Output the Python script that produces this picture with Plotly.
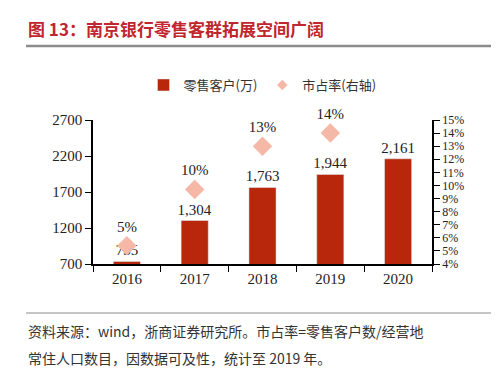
import plotly.graph_objects as go

years = ["2016", "2017", "2018", "2019", "2020"]
customers = [735, 1304, 1763, 1944, 2161]
share_years = ["2016", "2017", "2018", "2019"]
share = [0.054, 0.097, 0.13, 0.14]

title_text = "图 13：南京银行零售客群拓展空间广阔"
note1 = "资料来源：wind，浙商证券研究所。市占率=零售客户数/经营地"
note2 = "常住人口数目，因数据可及性，统计至 2019 年。"

serif = "Liberation Serif, Times New Roman, serif"
cjk = "Noto Sans CJK SC"

L, R, T, B = 85, 75, 112, 120
W, H = 499, 376
pw = W - L - R
ph = H - T - B

def px(x):
    return (x - L) / pw

def py(y):
    return (H - B - y) / ph

bar_color = "#B8260B"
dot_color = "#F5B7A6"

fig = go.Figure()
fig.add_trace(go.Bar(
    x=years, y=customers, name="零售客户(万)",
    marker=dict(color=bar_color), width=0.4,
    text=[f"{v:,}" for v in customers], textposition="outside",
    constraintext="none",
    textfont=dict(family=serif, size=15, color="#222"),
    cliponaxis=False, showlegend=True,
))
fig.add_trace(go.Scatter(
    x=share_years, y=share, name="市占率(右轴)", yaxis="y2",
    mode="markers+text",
    marker=dict(symbol="diamond", size=15, color=dot_color),
    text=[f"{round(v*100)}%" for v in share], textposition="top center",
    textfont=dict(family=serif, size=15, color="#222"),
    cliponaxis=False, showlegend=False,
))
# legend-only entry with a small diamond
fig.add_trace(go.Scatter(
    x=[None], y=[None], name="市占率(右轴)", yaxis="y2", mode="markers",
    marker=dict(symbol="diamond", size=8, color=dot_color), showlegend=True,
))

fig.update_layout(
    width=W, height=H,
    margin=dict(l=L, r=R, t=T, b=B),
    paper_bgcolor="white", plot_bgcolor="white",
    legend=dict(orientation="h", x=0.5, xanchor="center", y=py(77), yanchor="middle",
                font=dict(family=cjk, size=13, color="#333"), itemwidth=30,
                bgcolor="rgba(0,0,0,0)"),
    title=dict(text=title_text, x=20/W, xanchor="left", xref="container",
               y=(H-22)/H, yanchor="middle", yref="container",
               font=dict(family=cjk, size=17, color="#C0262D", weight="bold")),
    xaxis=dict(type="category", showline=True, linecolor="black", linewidth=1.5,
               ticks="outside", tickson="boundaries", ticklen=6, tickcolor="black",
               tickfont=dict(family=serif, size=15, color="#222"),
               showgrid=False, zeroline=False),
    yaxis=dict(range=[700, 2700], tick0=700, dtick=500, showline=True, linecolor="black",
               linewidth=1.5, ticks="outside", ticklen=6, tickcolor="black",
               tickfont=dict(family=serif, size=15, color="#222"),
               showgrid=False, zeroline=False),
    yaxis2=dict(range=[0.04, 0.15], dtick=0.01, tickformat=".0%", overlaying="y",
                side="right", showline=True, linecolor="black", linewidth=1.5,
                ticks="outside", ticklen=6, tickcolor="black",
                tickfont=dict(family=serif, size=12, color="#222"),
                showgrid=False, zeroline=False),
    shapes=[
        dict(type="line", xref="paper", yref="paper", x0=px(18), x1=px(487),
             y0=py(38), y1=py(38), line=dict(color="#8C8C8C", width=2.5)),
        dict(type="line", xref="paper", yref="paper", x0=px(18), x1=px(487),
             y0=py(305), y1=py(305), line=dict(color="#8C8C8C", width=1)),
    ],
    annotations=[
        dict(text=note1, xref="paper", yref="paper", x=px(18), y=py(323),
             xanchor="left", yanchor="middle", showarrow=False,
             font=dict(family=cjk, size=14, color="#333")),
        dict(text=note2, xref="paper", yref="paper", x=px(18), y=py(350),
             xanchor="left", yanchor="middle", showarrow=False,
             font=dict(family=cjk, size=14, color="#333")),
    ],
)

fig.write_html("out.html")
